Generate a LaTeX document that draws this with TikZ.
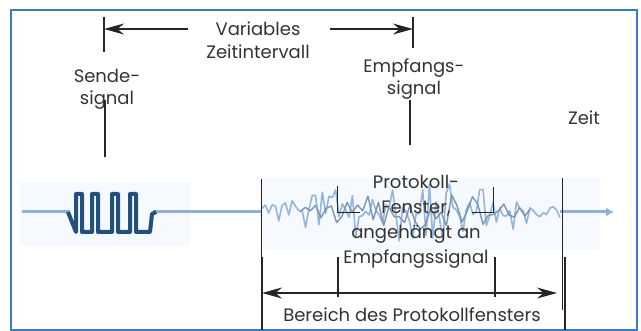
\documentclass[tikz,border=0pt]{standalone}
\usepackage{fontspec}
\setmainfont{Poppins}
\usetikzlibrary{arrows.meta}
\definecolor{rahmen}{HTML}{3B7BC4}
\definecolor{signalhell}{HTML}{8DB0DC}
\definecolor{signalmittel}{HTML}{7AA3D4}
\definecolor{signaldunkel}{HTML}{22507F}
\definecolor{schleier}{HTML}{F6F9FD}
\definecolor{schrift}{HTML}{333333}
\tikzset{
  txt/.style={text=schrift,font=\fontsize{18}{22}\selectfont,align=center,inner sep=0pt},
  strich/.style={draw=black!85,line width=1.4pt},
  masz/.style={strich,-{Stealth[length=20pt,width=11pt]}},
  doppelmasz/.style={strich,{Stealth[length=20pt,width=11pt]}-{Stealth[length=20pt,width=11pt]}}
}
\begin{document}
\begin{tikzpicture}[x=1pt,y=-1pt]
\useasboundingbox (0,0) rectangle (641,331);
\fill[schleier] (20,182) rectangle (190,246) (262,178) rectangle (600,250);
\draw[rahmen,line width=2pt] (11,10) rectangle (637,330);

\draw[signalhell,line width=3pt] (22,212) -- (70,212) (153,212) -- (262,212);
\draw[signalhell,line width=3pt,-{Latex[length=8pt,width=9pt]}] (560,212) -- (614,212);
\draw[signaldunkel,line width=4pt,line join=round] (68,212)
  \foreach \p in {76,92,112,130} { -- (\p,232) -- (\p,194) -- (\p+6,194) -- (\p+6,232) }
  -- (150,232) -- (152,214) -- (156,212);
\pgfmathsetseed{17}
\draw[signalmittel!80,line width=1.6pt,line join=round] plot[domain=262:560,samples=90]
  (\x,{212+(6+24*sin((\x-262)/298*180))*rand});
\pgfmathsetseed{5}
\draw[signaldunkel!60,line width=1.4pt,line join=round] plot[domain=300:530,samples=45]
  (\x,{212+(4+16*sin((\x-300)/230*180))*rand});

\node[txt] (var) at (258,29) {Variables};
\node[txt] (zeitint) at (258,52) {Zeitintervall};
\coordinate (t1) at (104,29);
\coordinate (t2) at (413,29);
\draw[strich] (104,17) -- (104,52);
\draw[strich] (413,17) -- (413,48);
\draw[masz] ([xshift=-27pt]var.west) -- (t1);
\draw[masz] ([xshift=29pt]var.east) -- (t2);

\node[txt] (sende) at (107,89) {Sende-\\signal};
\node[txt] (empfang) at (414,79) {Empfangs-\\signal};
\node[txt] (zeit) at (584,118) {Zeit};
\draw[strich] (105,100) -- (105,157);
\draw[strich] (410,100) -- (410,145);

\draw[strich,line width=1pt] (261,179) -- (261,330);
\draw[strich,line width=2pt] (262,257) -- (262,330);
\draw[strich,line width=1pt] (562,178) -- (562,310);
\draw[strich,line width=2pt] (565,257) -- (565,330);
\draw[strich,line width=1pt] (337,186) -- (337,213) -- (360,213);
\draw[strich,line width=1pt] (472,213) -- (493,213) -- (493,187);

\node[txt,font=\fontsize{18}{25}\selectfont] (fenster) at (416,222) {Protokoll-\\Fenster,\\angehängt an\\Empfangssignal};
\coordinate (b1) at (262,293);
\coordinate (b2) at (557,293);
\draw[strich] (338,257) -- (338,297);
\draw[strich] (495,257) -- (495,297);
\draw[doppelmasz] (b1) -- (b2);
\node[txt] (bereich) at (412,315) {Bereich des Protokollfensters};
\end{tikzpicture}
\end{document}
